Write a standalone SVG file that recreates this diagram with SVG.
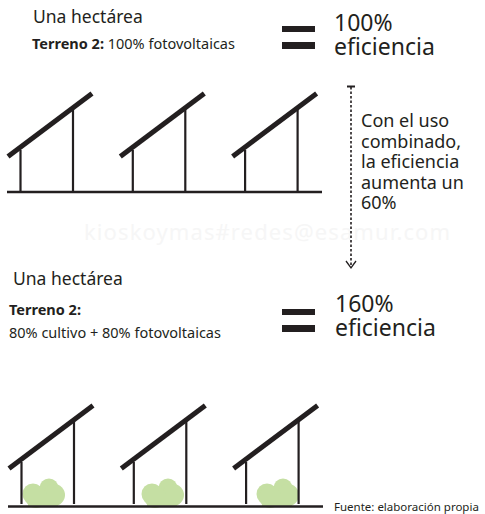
<svg xmlns="http://www.w3.org/2000/svg" width="485" height="514" viewBox="0 0 485 514">
<style>
text{font-family:"Noto Sans","Open Sans",sans-serif;fill:#231f20}
.h{font-size:17.5px}
.m{font-size:14.5px}
.b{font-weight:700}
.p{font-size:23px}
.s{font-size:18px}
.f{font-size:11.5px}
.w{font-size:22px;fill:#f6f6f6;letter-spacing:1.1px}
.panel{stroke:#231f20;stroke-width:5;fill:none}
.post{stroke:#231f20;stroke-width:2.2;fill:none}
.ground{stroke:#231f20;stroke-width:2.4;fill:none}
.eq{fill:#231f20}
.bush{fill:#c5dfa3}
</style>
<defs>
<g id="rack">
<path class="post" d="M20.500 150V192M73 109V192"/>
<path class="panel" d="M8 156.500L92 93.500"/>
</g>
<g id="bush">
<circle cx="33" cy="494" r="10.500" class="bush"/>
<circle cx="49" cy="488" r="9.500" class="bush"/>
<circle cx="54" cy="495" r="11" class="bush"/>
<circle cx="36" cy="497" r="11" class="bush"/>
<rect x="28" y="494" width="30" height="12" class="bush"/>
</g>
</defs>
<text class="w" x="84" y="240">kioskoymas#redes@esamur.com</text>
<g id="terreno-solar">
<text class="h" x="33" y="23">Una hectárea</text>
<text class="m" x="32" y="49"><tspan class="b">Terreno 2:</tspan> 100% fotovoltaicas</text>
<rect class="eq" x="282" y="26" width="33" height="6"/>
<rect class="eq" x="282" y="42" width="33" height="7"/>
<text class="p" x="334" y="31">100%</text>
<text class="p" x="334" y="55">eficiencia</text>
<use href="#rack"/>
<use href="#rack" x="112.300"/>
<use href="#rack" x="224.600"/>
<path class="ground" d="M7 192H322"/>
</g>
<g id="terreno-combinado">
<text class="h" x="13" y="285">Una hectárea</text>
<text class="m b" x="9" y="315">Terreno 2:</text>
<text class="m" x="9" y="338">80% cultivo + 80% fotovoltaicas</text>
<rect class="eq" x="282" y="309" width="33" height="6"/>
<rect class="eq" x="282" y="325" width="33" height="7"/>
<text class="p" x="335" y="312">160%</text>
<text class="p" x="335" y="336">eficiencia</text>
<use href="#bush"/>
<use href="#bush" x="119"/>
<use href="#bush" x="234"/>
<use href="#rack" x="1" y="312"/>
<use href="#rack" x="113.300" y="312"/>
<use href="#rack" x="225.600" y="312"/>
<path class="ground" d="M8 506.500H323"/>
<text class="f" x="334" y="511">Fuente: elaboración propia</text>
</g>
<g id="conectores">
<path d="M347 86.500H355" stroke="#231f20" stroke-width="2" fill="none"/>
<path d="M351 87V266" stroke="#231f20" stroke-width="1.600" stroke-dasharray="2.500 2" fill="none"/>
<path d="M346 261L351 268L356 261" stroke="#231f20" stroke-width="1.300" fill="none"/>
</g>
<g id="nota">
<text class="s" x="361" y="127">Con el uso</text>
<text class="s" x="361" y="148">combinado,</text>
<text class="s" x="361" y="168">la eficiencia</text>
<text class="s" x="361" y="189">aumenta un</text>
<text class="s" x="361" y="209">60%</text>
</g>
</svg>
